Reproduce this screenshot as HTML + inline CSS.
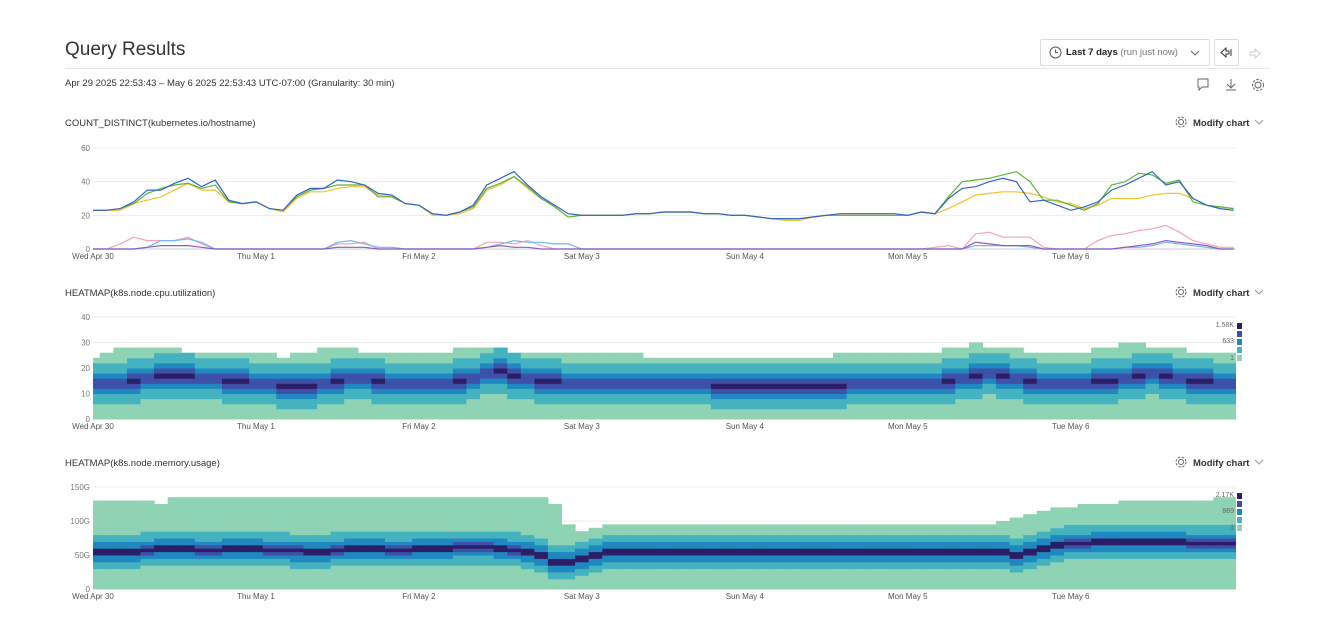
<!DOCTYPE html>
<html><head><meta charset="utf-8">
<style>
body{margin:0;background:#fff;font-family:"Liberation Sans",sans-serif;color:#333;}
.abs{position:absolute;}
#root{position:relative;width:1332px;height:644px;overflow:hidden;}
.t{font-size:9.5px;color:#333;}
.btn{border:1px solid #ddd;border-radius:2px;background:#fff;}
</style></head><body>
<div id="root">
<div class="abs" style="left:65px;top:39px;font-size:19px;color:#333">Query Results</div>
<div class="abs" style="left:65px;top:68px;width:1205px;height:1px;background:#e8e8e8"></div>
<div class="abs btn" style="left:1040px;top:39px;width:168px;height:25px">
  <svg class="abs" style="left:8px;top:6px" width="13" height="13"><circle cx="6.5" cy="6.5" r="5.5" fill="none" stroke="#555" stroke-width="1"/><path d="M6.5 3.5V6.5H9" fill="none" stroke="#555"/></svg>
  <span class="abs" style="left:25px;top:7px;font-size:9.5px;color:#333;white-space:nowrap"><b style="color:#222">Last 7 days</b> <span style="color:#777">(run just now)</span></span>
  <svg class="abs" style="left:149px;top:10px" width="10" height="6"><path d="M1 1L5 5L9 1" fill="none" stroke="#666"/></svg>
</div>
<div class="abs btn" style="left:1214px;top:39px;width:23px;height:25px"><svg class="abs" style="left:5px;top:7px" width="13" height="11"><path d="M1 5.5L6 1V4H9V7H6V10Z" fill="none" stroke="#333"/><path d="M11 2V9" stroke="#333"/></svg></div>
<div class="abs" style="left:1248px;top:46px"><svg width="13" height="11"><path d="M12 5.5L7 1V4H2V7H7V10Z" fill="none" stroke="#ccc"/></svg></div>
<div class="abs t" style="left:65px;top:78px">Apr 29 2025 22:53:43 – May 6 2025 22:53:43 UTC-07:00 (Granularity: 30 min)</div>
<svg class="abs" style="left:1197px;top:78px" width="70" height="14">
 <path d="M1 1H11V9H5L2 12V9H1Z" fill="none" stroke="#666"/>
 <path d="M34 1V9M30 6L34 10L38 6M29 12H39" fill="none" stroke="#666"/>
 <circle cx="61" cy="7" r="3" fill="none" stroke="#666"/><circle cx="61" cy="7" r="5.5" fill="none" stroke="#666" stroke-dasharray="2.5 1.5"/>
</svg>
<svg id="svg" class="abs" style="left:0;top:0" width="1332" height="644"></svg>
</div>
<script>
// ---- chart 1 data (2-hour steps, hours from Wed Apr 30 00:00) ----
const hours = Array.from({length:85},(_,i)=>i*2);
const blueSeries = [23,23,24,28,35,35,39,42,37,41,29,27,28, 24,23,32,36,36,41,40,38,33,32,27,26, 21,20,22,26,38,42,46,38,31,26,21,20, 20,20,20,21,21,22,22,22,21,21,20,20, 19,18,18,18,19,20,21,21,21,21,21,20, 22,21,30,36,37,40,42,40,28,29,26,23, 25,28,35,38,42,46,38,40,30,26,24,23];
const greenSeries = [23,23,24,27,33,36,38,39,36,38,28,27,28, 24,23,31,35,36,38,38,38,31,31,27,26, 21,20,22,25,36,39,43,37,30,25,19,20, 20,20,20,21,21,22,22,22,21,21,20,20, 19,18,18,18,19,20,20,20,20,20,20,20, 22,21,31,40,41,42,44,46,40,29,29,26, 23,27,38,40,45,44,39,41,28,26,25,24];
const yellowSeries = [23,23,23,27,29,31,35,39,35,35,28,27,28, 24,22,30,34,34,36,37,37,32,31,27,26, 20,20,21,24,35,38,43,36,30,26,21,20, 20,20,20,21,21,22,22,22,21,21,20,20, 19,18,17,17,19,20,20,20,20,20,20,20, 22,21,24,28,32,33,34,34,33,31,28,27, 24,26,30,30,30,32,33,33,30,26,25,24];
const pinkSeries = [0,0,3,7,5,5,5,7,3,0,0,0,0, 0,0,0,0,0,3,3,4,0,0,0,0, 0,0,0,0,4,4,3,5,2,0,0,0, 0,0,0,0,0,0,0,0,0,0,0,0, 0,0,0,0,0,0,0,0,0,0,0,0, 0,1,2,0,9,10,7,7,7,1,0,0, 0,5,8,9,11,12,14,10,5,3,1,1];
const lightBlueSeries = [0,0,0,0,1,5,5,6,4,0,0,0,0, 0,0,0,0,0,4,5,3,1,1,0,0, 0,0,0,0,1,3,5,4,4,3,3,0, 0,0,0,0,0,0,0,0,0,0,0,0, 0,0,0,0,0,0,0,0,0,0,0,0, 0,0,0,0,2,2,2,2,1,0,0,0, 0,0,0,1,1,2,4,3,2,1,0,0];
const purpleSeries = [0,0,0,0,1,2,2,2,1,0,0,0,0, 0,0,0,0,0,1,1,1,0,0,0,0, 0,0,0,0,1,2,1,1,0,0,0,0, 0,0,0,0,0,0,0,0,0,0,0,0, 0,0,0,0,0,0,0,0,0,0,0,0, 0,0,0,0,4,3,2,2,2,0,0,0, 0,0,0,1,2,3,5,4,3,2,0,0];
const countTicks = [0,20,40,60];
// ---- heatmap data (2-hour columns) ----
const cpuCenter = [14,14,14,15,16,17,17,17,16,16,15,15,14, 14,13,13,13,14,15,16,16,15,14,14,14, 14,14,15,16,18,19,17,16,15,15,14,14, 14,14,14,14,14,14,14,14,14,13,13,13, 13,13,13,13,13,13,13,14,14,14,14,14, 14,14,15,16,17,18,17,16,15,14,14,14, 14,15,15,16,17,18,17,16,15,15,14,14];
const cpuTop = [24,25,27,28,28,27,27,26,25,25,26,25,25, 25,24,25,26,27,27,27,26,25,25,25,25, 26,26,27,27,28,27,26,26,26,25,25,25, 25,25,25,25,24,24,24,24,24,24,24,24, 24,24,24,24,24,24,25,25,25,25,25,26, 26,26,27,28,29,28,27,27,26,26,26,26, 26,27,28,29,29,28,28,27,26,26,26,26];
const cpuTicks = [0,10,20,30,40];
const memCenter = [55,55,55,55,58,60,60,60,58,58,60,60,60, 58,58,56,55,55,58,60,60,60,58,58,60, 60,60,62,62,62,60,58,55,50,40,40,45, 50,55,55,55,55,55,55,55,55,55,55,55, 55,55,55,55,55,55,55,55,55,55,55,55, 55,55,55,55,55,55,55,50,55,60,65,68, 68,70,70,70,70,70,70,70,68,68,68,68];
const memTop = [128,128,128,128,128,125,132,132,132,132,132,132,132, 132,132,132,132,132,132,132,132,132,132,132,132, 132,132,132,132,132,132,132,132,132,125,95,82, 88,92,92,92,94,94,94,94,94,94,94,94, 94,94,94,94,94,94,94,94,94,94,94,94, 94,94,94,94,94,94,100,105,110,115,118,120, 122,124,125,126,128,128,128,128,130,130,132,132];
const memTicks = [0,50,100,150];
const memTickLabels = ["0","50G","100G","150G"];
const dayLabels = ["Wed Apr 30","Thu May 1","Fri May 2","Sat May 3","Sun May 4","Mon May 5","Tue May 6"];
const colorScale = ["#8dd3b4","#45b3bf","#1f88c0","#3c51a7","#2c1e66"];

const svg=document.getElementById('svg');
const NS='http://www.w3.org/2000/svg';
function mk(tag,attrs,parent){const e=document.createElementNS(NS,tag);for(const k in attrs)e.setAttribute(k,attrs[k]);(parent||svg).appendChild(e);return e;}
const X0=93, PXH=6.79;
const xScale=h=>X0+h*PXH;
const XR=1236;
const FONT='Liberation Sans';

function axes(name,y0,yTop,vmax,ticks,labels,titleY){
  const g=mk('g',{});
  
  
  const ys=v=>y0-(v/vmax)*(y0-yTop);
  ticks.forEach((t,i)=>{
    const gl=mk('line',{x1:X0,x2:XR,y1:ys(t),y2:ys(t),stroke:t===0?'#ccc':'#ececec','stroke-width':1},g);
    
    
    const tx=mk('text',{x:90,y:ys(t)+3,'text-anchor':'end','font-size':8,fill:'#777','font-family':FONT},g);
    tx.textContent=labels?labels[i]:String(t);
    
    
  });
  dayLabels.forEach((d,i)=>{
    const tx=mk('text',{x:xScale(i*24),y:y0+10,'text-anchor':'middle','font-size':8,fill:'#555','font-family':FONT},g);
    tx.textContent=d;
    
    
  });
  const tt=mk('text',{x:65,y:titleY,'font-size':9.5,fill:'#333','font-family':FONT},g);
  
  
  const mg=mk('g',{},g);
  
  
  mk('circle',{cx:1181,cy:titleY-4,r:2.5,fill:'none',stroke:'#666'},mg);
  mk('circle',{cx:1181,cy:titleY-4,r:5,fill:'none',stroke:'#666','stroke-dasharray':'2.5 1.5'},mg);
  const mt=mk('text',{x:1193,y:titleY,'font-size':9.5,'font-weight':'bold',fill:'#333','font-family':FONT},mg);
  mt.textContent='Modify chart';
  mk('path',{d:`M1255 ${titleY-6}L1259 ${titleY-2}L1263 ${titleY-6}`,fill:'none',stroke:'#999'},mg);
  return {g,ys,tt};
}

// chart 1
const c1=axes('count-distinct',249,148,60,countTicks,null,126);
c1.tt.textContent='COUNT_DISTINCT(kubernetes.io/hostname)';
const lines=[[pinkSeries,'#f4a3b8','pink'],[lightBlueSeries,'#72b8ea','light-blue'],[purpleSeries,'#8a5cc0','purple'],[yellowSeries,'#f2c12e','yellow'],[greenSeries,'#5cb535','green'],[blueSeries,'#3563c9','blue']];
lines.forEach(([arr,col,nm])=>{
  const d=arr.map((v,i)=>(i?'L':'M')+xScale(hours[i]).toFixed(1)+' '+c1.ys(v).toFixed(1)).join('');
  const p=mk('path',{d,fill:'none',stroke:col,'stroke-width':1.2},c1.g);
  
  
});

// heatmaps
function heat(name,title,titleY,y0,yTop,vmax,ticks,labels,center,top,rowStep,spread,legendLabels){
  const c=axes(name,y0,yTop,vmax,ticks,labels,titleY);
  c.tt.textContent=title;
  const cw=2*PXH;
  center.forEach((cv,i)=>{
    let x=xScale(hours[i])-PXH, w=cw+0.5;
    if(x<X0){w-=X0-x;x=X0;}
    if(x+w>XR){w=XR-x;}
    if(w<=0)return;
    for(let v=0;v<top[i];v+=rowStep){
      const mid=v+rowStep/2;
      const dist=Math.abs(mid-cv)/spread;
      let lvl=dist<0.2?4:dist<0.5?3:dist<1.0?2:dist<1.8?1:0;
      const r=mk('rect',{x:x.toFixed(1),y:c.ys(v+rowStep).toFixed(1),width:w.toFixed(1),height:(c.ys(v)-c.ys(v+rowStep)+0.5).toFixed(1),fill:colorScale[lvl]},c.g);
      
      
    }
  });
  const lg=mk('g',{},c.g);
  
  
  const ly=yTop+6;
  for(let k=0;k<5;k++) mk('rect',{x:1237,y:ly+k*8,width:5,height:6,fill:colorScale[4-k]},lg);
  [[legendLabels[0],ly+4],[legendLabels[1],ly+20],[legendLabels[2],ly+37]].forEach(([s,y])=>{
    const t=mk('text',{x:1234,y,'text-anchor':'end','font-size':7,fill:'#666','font-family':FONT},lg);
    t.textContent=s;
  });
}
heat('cpu-heatmap','HEATMAP(k8s.node.cpu.utilization)',296,419,317,40,cpuTicks,null,cpuCenter,cpuTop,2,4.5,['1.58K','633','1']);
heat('memory-heatmap','HEATMAP(k8s.node.memory.usage)',466,589,487,150,memTicks,memTickLabels,memCenter,memTop,5,14,['2.17K','869','1']);
</script>
</body></html>
